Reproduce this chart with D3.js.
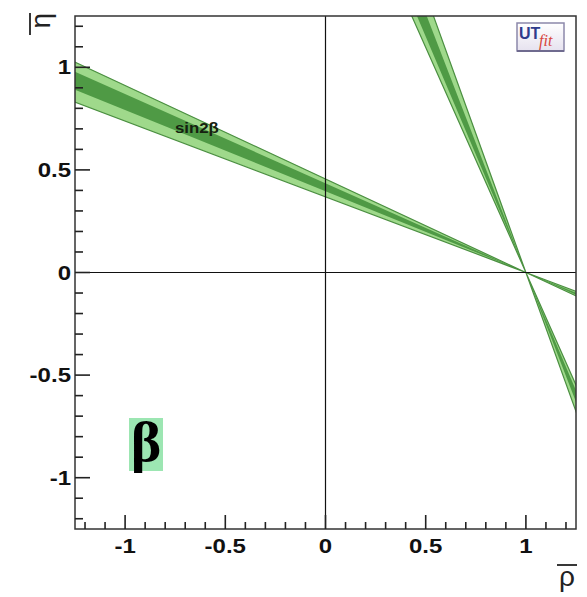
<!DOCTYPE html>
<html>
<head>
<meta charset="utf-8">
<script src="https://cdn.jsdelivr.net/npm/d3@7"></script>
<style>
  body { margin: 0; background: #fff; }
  text { font-family: "Liberation Sans", Arial, sans-serif; }
</style>
</head>
<body>
<script>
// sin2beta constraint: wedges of beta (degrees) through the apex (1,0)
var apex = [1, 0];
var beta95 = [20.25, 24.5];
var beta68 = [21.6, 23.5];
// the two solutions of sin2beta: beta and 90 - beta
var solutions = ["beta", "complement"];

var majorTicks = [-1, -0.5, 0, 0.5, 1];
var tickLabels = ["-1", "-0.5", "0", "0.5", "1"];
var minorTicks = [-1.2, -1.1, -0.9, -0.8, -0.7, -0.6, -0.4, -0.3, -0.2, -0.1,
                  0.1, 0.2, 0.3, 0.4, 0.6, 0.7, 0.8, 0.9, 1.1, 1.2];

var width = 587, height = 597;
var x = d3.scaleLinear().domain([-1.25, 1.25]).range([75, 576]);
var y = d3.scaleLinear().domain([-1.25, 1.25]).range([529, 16]);

var svg = d3.select("body").append("svg").attr("width", width).attr("height", height);

var defs = svg.append("defs");
defs.append("clipPath").attr("id", "plotclip").append("rect")
  .attr("x", x(-1.25)).attr("y", y(1.25))
  .attr("width", x(1.25) - x(-1.25)).attr("height", y(-1.25) - y(1.25));
var grad = defs.append("linearGradient").attr("id", "logograd")
  .attr("x1", 0).attr("y1", 0).attr("x2", 0).attr("y2", 1);
grad.append("stop").attr("offset", "0%").attr("stop-color", "#ffffff");
grad.append("stop").attr("offset", "100%").attr("stop-color", "#e6e2ef");

//turns an angle range into a bow tie polygon through the apex
function wedge(range, sol) {
  var a = range.map(function(d) { return sol == "beta" ? d : 90 - d; });
  var L = 6;
  var t1 = Math.tan(a[0] * Math.PI / 180), t2 = Math.tan(a[1] * Math.PI / 180);
  var pts = [
    apex,
    [apex[0] - L, apex[1] + L * t1],
    [apex[0] - L, apex[1] + L * t2],
    apex,
    [apex[0] + L, apex[1] - L * t2],
    [apex[0] + L, apex[1] - L * t1]
  ];
  return d3.line().x(function(d) { return x(d[0]); }).y(function(d) { return y(d[1]); })(pts) + "Z";
}

//widen text a bit, the original fonts are stretched
function stretch(sel, k) {
  sel.each(function() {
    var w = this.getComputedTextLength();
    d3.select(this).attr("textLength", w * k).attr("lengthAdjust", "spacingAndGlyphs");
  });
}

var plot = svg.append("g").attr("clip-path", "url(#plotclip)");

plot.selectAll(".band95").data(solutions).enter().append("path")
  .attr("class", "band95")
  .attr("d", function(s) { return wedge(beta95, s); })
  .style("fill", "#9fd98b").style("stroke", "#4b8f41").style("stroke-width", 1.2);

plot.selectAll(".band68").data(solutions).enter().append("path")
  .attr("class", "band68")
  .attr("d", function(s) { return wedge(beta68, s); })
  .style("fill", "#4f9a45");

//zero lines
svg.append("line").attr("x1", x(0)).attr("x2", x(0)).attr("y1", y(1.25)).attr("y2", y(-1.25))
  .style("stroke", "#111").style("stroke-width", 1.2);
svg.append("line").attr("x1", x(-1.25)).attr("x2", x(1.25)).attr("y1", y(0)).attr("y2", y(0))
  .style("stroke", "#111").style("stroke-width", 1.2);

//frame
svg.append("rect").attr("x", x(-1.25)).attr("y", y(1.25))
  .attr("width", x(1.25) - x(-1.25)).attr("height", y(-1.25) - y(1.25))
  .style("fill", "none").style("stroke", "#333").style("stroke-width", 1.5);

//ticks, pointing inward
var ax = svg.append("g").style("stroke", "#222").style("stroke-width", 1.6);
ax.selectAll(".xmaj").data(majorTicks).enter().append("line")
  .attr("x1", function(d) { return x(d); }).attr("x2", function(d) { return x(d); })
  .attr("y1", y(-1.25)).attr("y2", y(-1.25) - 14);
ax.selectAll(".xmin").data(minorTicks).enter().append("line")
  .attr("x1", function(d) { return x(d); }).attr("x2", function(d) { return x(d); })
  .attr("y1", y(-1.25)).attr("y2", y(-1.25) - 7);
ax.selectAll(".ymaj").data(majorTicks).enter().append("line")
  .attr("y1", function(d) { return y(d); }).attr("y2", function(d) { return y(d); })
  .attr("x1", x(-1.25)).attr("x2", x(-1.25) + 15);
ax.selectAll(".ymin").data(minorTicks).enter().append("line")
  .attr("y1", function(d) { return y(d); }).attr("y2", function(d) { return y(d); })
  .attr("x1", x(-1.25)).attr("x2", x(-1.25) + 8);

//tick labels
var xl = svg.selectAll(".xlab").data(majorTicks).enter().append("text")
  .attr("x", function(d) { return x(d); }).attr("y", 553)
  .attr("text-anchor", "middle")
  .style("font-size", "20px").style("font-weight", "bold").style("fill", "#111")
  .text(function(d, i) { return tickLabels[i]; });
stretch(xl, 1.2);
var yl = svg.selectAll(".ylab").data(majorTicks).enter().append("text")
  .attr("x", 71).attr("y", function(d) { return y(d) + 7; })
  .attr("text-anchor", "end")
  .style("font-size", "20px").style("font-weight", "bold").style("fill", "#111")
  .text(function(d, i) { return tickLabels[i]; });
stretch(yl, 1.2);

//axis titles
var xt = svg.append("g").attr("transform", "translate(567,586)");
xt.append("text").attr("text-anchor", "middle").style("font-size", "28px").style("fill", "#222").text("ρ");
xt.append("line").attr("x1", -10).attr("x2", 10).attr("y1", -21).attr("y2", -21)
  .style("stroke", "#222").style("stroke-width", 1.8);

var yt = svg.append("g").attr("transform", "translate(50,13)rotate(-90)");
yt.append("text").attr("text-anchor", "end").style("font-size", "28px").style("fill", "#222").text("η");
yt.append("line").attr("x1", -22).attr("x2", 0).attr("y1", -20).attr("y2", -20)
  .style("stroke", "#222").style("stroke-width", 1.8);

//band label
var bl = svg.append("text").attr("x", 175).attr("y", 133)
  .style("font-size", "14px").style("font-weight", "bold").style("fill", "#15210f")
  .text("sin2β");
stretch(bl, 1.2);

//UTfit logo
svg.append("rect").attr("x", 517).attr("y", 23).attr("width", 47).attr("height", 28)
  .style("fill", "url(#logograd)").style("stroke", "#8c88aa").style("stroke-width", 1.5);
svg.append("line").attr("x1", 517).attr("x2", 564).attr("y1", 51).attr("y2", 51)
  .style("stroke", "#6f6b8f").style("stroke-width", 2);
svg.append("text").attr("x", 519).attr("y", 39)
  .style("font-size", "16px").style("font-weight", "bold").style("fill", "#2f3b8c")
  .text("UT");
svg.append("text").attr("x", 539).attr("y", 46)
  .style("font-size", "16px").style("font-style", "italic").style("fill", "#d8453c")
  .style("font-family", "'Liberation Serif', serif")
  .text("fit");

//beta marker
svg.append("rect").attr("x", 129).attr("y", 418).attr("width", 34).attr("height", 53)
  .style("fill", "#9ce6b2");
svg.append("text").attr("x", 146).attr("y", 461).attr("text-anchor", "middle")
  .style("font-family", "'Liberation Serif', serif").style("font-size", "58px")
  .style("font-weight", "bold").style("fill", "#000")
  .text("β");
</script>
</body>
</html>
